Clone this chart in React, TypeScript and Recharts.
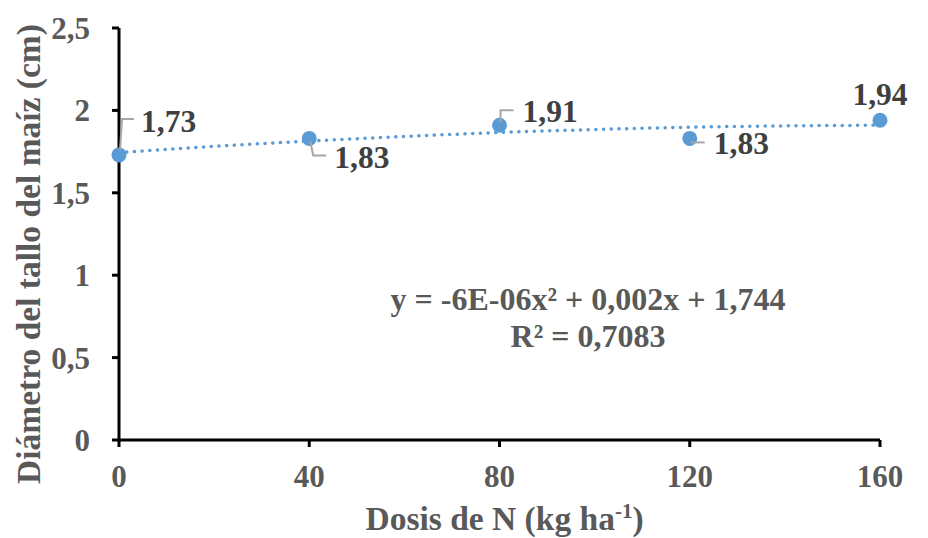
import React from "react";
import { ComposedChart, Line, Scatter, XAxis, YAxis } from "recharts";

const doses = [0, 40, 80, 120, 160];
const diameters = [1.73, 1.83, 1.91, 1.83, 1.94];
const trendX = [0, 20, 40, 60, 80, 100, 120, 140, 160];
const trendY = [1.744, 1.782, 1.814, 1.842, 1.866, 1.884, 1.898, 1.906, 1.91];
const xTicks = [0, 40, 80, 120, 160];
const yTicks = [0, 0.5, 1, 1.5, 2, 2.5];
const yTitle = "Diámetro del tallo del maíz (cm)";
const equationLines = ["y = -6E-06x² + 0,002x + 1,744", "R² = 0,7083"];

const pointData = doses.map((d, i) => ({ x: d, y: diameters[i] }));
const trendData = trendX.map((d, i) => ({ x: d, t: trendY[i] }));

const FONT = "'Liberation Serif', 'Times New Roman', serif";
const BLUE = "#5B9BD5";
const LEADER = "#A6A6A6";
const LABEL = "#404040";
const AXIS_TEXT = "#595959";

const fmt = (v: number) => String(v).replace(".", ",");

// label placement per point (offsets relative to the marker centre)
const labelStyle = [
  { tx: 22, ty: -23, anchor: "start", leader: [[1, -5], [3, -36], [15, -36]] },
  { tx: 25, ty: 30, anchor: "start", leader: [[1, 3], [4, 17], [17, 17]] },
  { tx: 23, ty: -3, anchor: "start", leader: [[1, -3], [1, -15], [14, -15]] },
  { tx: 24, ty: 16, anchor: "start", leader: [[1, 4], [15, 4]] },
  { tx: 0, ty: -15, anchor: "middle", leader: [] as number[][] },
];

const PointShape = (props: any) => {
  const { cx, cy, payload } = props;
  const i = doses.indexOf(payload.x);
  const s = labelStyle[i] || labelStyle[0];
  const pts = s.leader.map((p) => `${cx + p[0]},${cy + p[1]}`).join(" ");
  return (
    <g>
      <circle cx={cx} cy={cy} r={7.5} fill={BLUE} />
      {s.leader.length > 0 && (
        <polyline points={pts} fill="none" stroke={LEADER} strokeWidth={2} />
      )}
      <text
        x={cx + s.tx}
        y={cy + s.ty}
        textAnchor={s.anchor as any}
        fontFamily={FONT}
        fontWeight="bold"
        fontSize={31.5}
        fill={LABEL}
      >
        {fmt(payload.y)}
      </text>
    </g>
  );
};

const YTitle = (props: any) => {
  const { viewBox } = props;
  const cx = 28;
  const cy = viewBox.y + viewBox.height / 2 + 20;
  return (
    <text
      x={cx}
      y={cy}
      transform={`rotate(-90 ${cx} ${cy})`}
      textAnchor="middle"
      dominantBaseline="central"
      fontFamily={FONT}
      fontWeight="bold"
      fontSize={33.5}
      fill={AXIS_TEXT}
    >
      {yTitle}
    </text>
  );
};

const XTitle = (props: any) => {
  const { viewBox } = props;
  const cx = viewBox.x + viewBox.width / 2 + 5;
  return (
    <text
      x={cx}
      y={530}
      textAnchor="middle"
      fontFamily={FONT}
      fontWeight="bold"
      fontSize={33.5}
      fill={AXIS_TEXT}
    >
      Dosis de N (kg ha
      <tspan fontSize={21} dy={-12}>-1</tspan>
      <tspan dy={12}>)</tspan>
    </text>
  );
};

export default function App() {
  return (
    <div style={{ position: "absolute", left: 0, top: 0, width: 928, height: 538, background: "#fff" }}>
      <ComposedChart
        width={928}
        height={538}
        margin={{ top: 28, right: 48, left: 0, bottom: 0 }}
      >
        <XAxis
          type="number"
          dataKey="x"
          domain={[0, 160]}
          ticks={xTicks}
          axisLine={{ stroke: "#000", strokeWidth: 3 }}
          tickLine={{ stroke: "#000", strokeWidth: 3 }}
          tickSize={7}
          tickMargin={18}
          height={98}
          tick={{ fontFamily: FONT, fontWeight: "bold", fontSize: 31, fill: AXIS_TEXT }}
          label={<XTitle />}
        />
        <YAxis
          type="number"
          domain={[0, 2.5]}
          ticks={yTicks}
          width={119}
          axisLine={{ stroke: "#000", strokeWidth: 3 }}
          tickLine={{ stroke: "#000", strokeWidth: 3 }}
          tickSize={7}
          tickMargin={22}
          tickFormatter={fmt}
          tick={{ fontFamily: FONT, fontWeight: "bold", fontSize: 31, fill: AXIS_TEXT }}
          label={<YTitle />}
        />
        <Line
          data={trendData}
          dataKey="t"
          type="monotone"
          stroke={BLUE}
          strokeWidth={3.5}
          strokeDasharray="0.1 7.6"
          strokeLinecap="round"
          dot={false}
          activeDot={false}
          isAnimationActive={false}
          legendType="none"
        />
        <Scatter
          data={pointData}
          dataKey="y"
          fill={BLUE}
          shape={<PointShape />}
          isAnimationActive={false}
        />
      </ComposedChart>
      <div
        style={{
          position: "absolute",
          left: 388,
          top: 281,
          width: 400,
          textAlign: "center",
          fontFamily: FONT,
          fontWeight: "bold",
          fontSize: 32,
          lineHeight: "37px",
          color: AXIS_TEXT,
          whiteSpace: "nowrap",
        }}
      >
        {equationLines.map((l, k) => (
          <div key={k}>{l}</div>
        ))}
      </div>
    </div>
  );
}
